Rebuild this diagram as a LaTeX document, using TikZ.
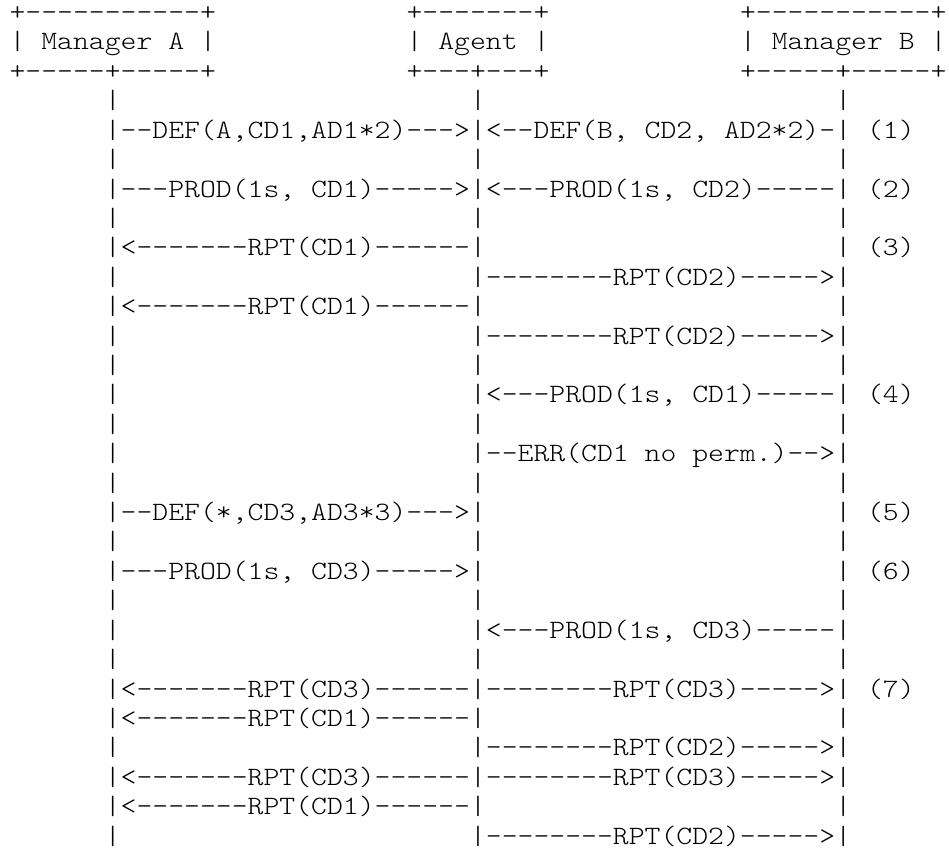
\documentclass[tikz,border=0pt]{standalone}
\usepackage{fontspec}
\setmonofont{lmmonolt10-regular.otf}[FakeStretch=1.142857]
\newcommand\asciifont{\ttfamily\fontsize{13.23pt}{14.7pt}\selectfont\frenchspacing\spaceskip 7.94pt\relax}
\newcommand\asciitext[4]{\node[txt] (#1) at ({4.78+#3*7.94},{-25-(#2-2)*14.705}) {#4};}
\tikzset{txt/.style={anchor=base west,inner sep=0pt,outer sep=0pt,text=black,font=\asciifont}}
\begin{document}
\begin{tikzpicture}[x=1pt,y=1pt]
\fill[white] (0,0) rectangle (474.5,-424.5);
\useasboundingbox (0,0) rectangle (474.5,-424.5);
% boxes
\asciitext{boxAt}{1}{0}{+-----------+}
\asciitext{boxAm}{2}{0}{| Manager A |}
\asciitext{boxAb}{3}{0}{+-----+-----+}
\asciitext{boxGt}{1}{25}{+-------+}
\asciitext{boxGm}{2}{25}{| Agent |}
\asciitext{boxGb}{3}{25}{+---+---+}
\asciitext{boxBt}{1}{46}{+-----------+}
\asciitext{boxBm}{2}{46}{| Manager B |}
\asciitext{boxBb}{3}{46}{+-----+-----+}
% lifelines
\foreach \r in {4,...,29}{
  \asciitext{barA\r}{\r}{6}{|}
  \asciitext{barG\r}{\r}{29}{|}
  \asciitext{barB\r}{\r}{52}{|}
}
% messages
\asciitext{m5l}{5}{7}{--DEF(A,CD1,AD1*2)--->}
\asciitext{m5r}{5}{30}{<--DEF(B, CD2, AD2*2)-}
\asciitext{n1}{5}{54}{(1)}
\asciitext{m7l}{7}{7}{---PROD(1s, CD1)----->}
\asciitext{m7r}{7}{30}{<---PROD(1s, CD2)-----}
\asciitext{n2}{7}{54}{(2)}
\asciitext{m9l}{9}{7}{<-------RPT(CD1)------}
\asciitext{n3}{9}{54}{(3)}
\asciitext{m10r}{10}{30}{--------RPT(CD2)----->}
\asciitext{m11l}{11}{7}{<-------RPT(CD1)------}
\asciitext{m12r}{12}{30}{--------RPT(CD2)----->}
\asciitext{m14r}{14}{30}{<---PROD(1s, CD1)-----}
\asciitext{n4}{14}{54}{(4)}
\asciitext{m16r}{16}{30}{--ERR(CD1 no perm.)-->}
\asciitext{m18l}{18}{7}{--DEF(*,CD3,AD3*3)--->}
\asciitext{n5}{18}{54}{(5)}
\asciitext{m20l}{20}{7}{---PROD(1s, CD3)----->}
\asciitext{n6}{20}{54}{(6)}
\asciitext{m22r}{22}{30}{<---PROD(1s, CD3)-----}
\asciitext{m24l}{24}{7}{<-------RPT(CD3)------}
\asciitext{m24r}{24}{30}{--------RPT(CD3)----->}
\asciitext{n7}{24}{54}{(7)}
\asciitext{m25l}{25}{7}{<-------RPT(CD1)------}
\asciitext{m26r}{26}{30}{--------RPT(CD2)----->}
\asciitext{m27l}{27}{7}{<-------RPT(CD3)------}
\asciitext{m27r}{27}{30}{--------RPT(CD3)----->}
\asciitext{m28l}{28}{7}{<-------RPT(CD1)------}
\asciitext{m29r}{29}{30}{--------RPT(CD2)----->}
\end{tikzpicture}
\end{document}
